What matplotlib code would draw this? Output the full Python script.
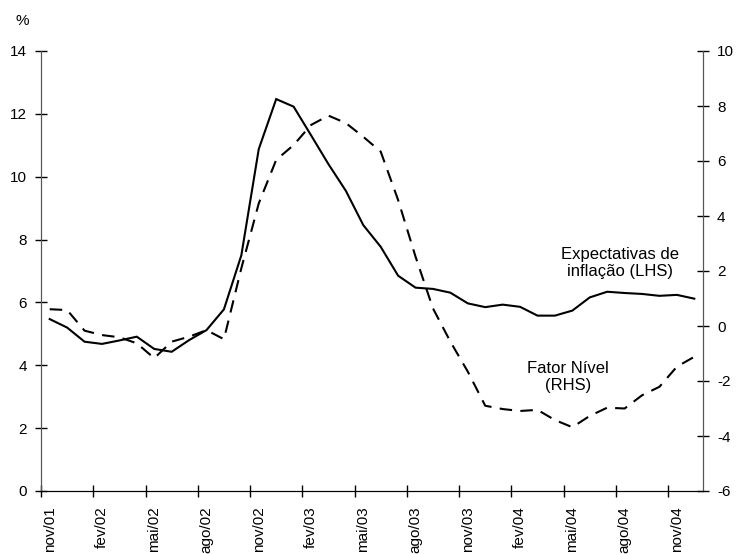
import matplotlib
matplotlib.use("Agg")
import matplotlib.pyplot as plt
import numpy as np

plt.rcParams['font.family'] = ['Liberation Sans', 'DejaVu Sans']
plt.rcParams['axes.unicode_minus'] = False

months = ["nov/01", "dez/01", "jan/02", "fev/02", "mar/02", "abr/02", "mai/02", "jun/02", "jul/02",
          "ago/02", "set/02", "out/02", "nov/02", "dez/02", "jan/03", "fev/03", "mar/03", "abr/03",
          "mai/03", "jun/03", "jul/03", "ago/03", "set/03", "out/03", "nov/03", "dez/03", "jan/04",
          "fev/04", "mar/04", "abr/04", "mai/04", "jun/04", "jul/04", "ago/04", "set/04", "out/04",
          "nov/04", "dez/04"]

expectativas = [5.47, 5.20, 4.75, 4.68, 4.79, 4.91, 4.52, 4.43, 4.80, 5.12, 5.78, 7.50,
                10.88, 12.47, 12.23, 11.32, 10.40, 9.55, 8.46, 7.77, 6.85, 6.47, 6.43, 6.31,
                5.97, 5.85, 5.93, 5.86, 5.58, 5.58, 5.74, 6.16, 6.34, 6.30, 6.27, 6.21, 6.24, 6.12]

fator_nivel = [0.61, 0.58, -0.17, -0.33, -0.41, -0.63, -1.17, -0.57, -0.39, -0.15, -0.48, 2.10,
               4.46, 6.04, 6.58, 7.31, 7.65, 7.38, 6.88, 6.34, 4.58, 2.52, 0.64, -0.57,
               -1.66, -2.90, -3.02, -3.09, -3.05, -3.42, -3.68, -3.27, -2.97, -3.00, -2.52,
               -2.21, -1.48, -1.12]

label_every = 3

fig = plt.figure(figsize=(7.36, 5.54), dpi=100)
ax = fig.add_axes([41/736, 1-491/554, (703-41)/736, (491-51)/554])
ax2 = ax.twinx()

x = np.arange(len(months))
ax.plot(x, expectativas, color='black', lw=1.5, solid_joinstyle='miter')
ax2.plot(x, fator_nivel, color='black', lw=1.5, dashes=(6, 4))

ax.set_xlim(-0.5, len(months) - 0.5)
ax.set_ylim(0, 14)
ax.set_yticks(np.arange(0, 15, 2))
ax2.set_ylim(-6, 10)
ax2.set_yticks(np.arange(-6, 11, 2))

# x ticks at category boundaries, labels at category centres
ax.set_xticks(np.arange(-0.5, len(months) - 0.5, label_every))
ax.set_xticklabels([])
ax.set_xticks(x[::label_every], minor=True)
ax.set_xticklabels([months[i] for i in x[::label_every]], minor=True, rotation=90,
                   fontsize=11)
ax.tick_params(axis='x', which='minor', length=0, pad=11)
ax.tick_params(axis='x', which='major', direction='inout', length=8, width=1)

ax.tick_params(axis='y', direction='inout', length=8, width=1, labelsize=11, pad=6)
ax2.tick_params(axis='y', direction='inout', length=8, width=1, labelsize=11, pad=6)

for a in (ax, ax2):
    a.spines['top'].set_visible(False)
    a.spines['left'].set_color('#555555')
    a.spines['right'].set_color('#555555')
    a.spines['bottom'].set_color('black')

fig.text(22/736, 1-21/554, '%', fontsize=11, ha='center', va='center')

fig.text(620/736, 1-263/554, 'Expectativas de\ninflação (LHS)', fontsize=12,
         ha='center', va='center', linespacing=1.15)
fig.text(568/736, 1-377/554, 'Fator Nível\n(RHS)', fontsize=12,
         ha='center', va='center', linespacing=1.15)

fig.savefig('out.png', dpi=100)
